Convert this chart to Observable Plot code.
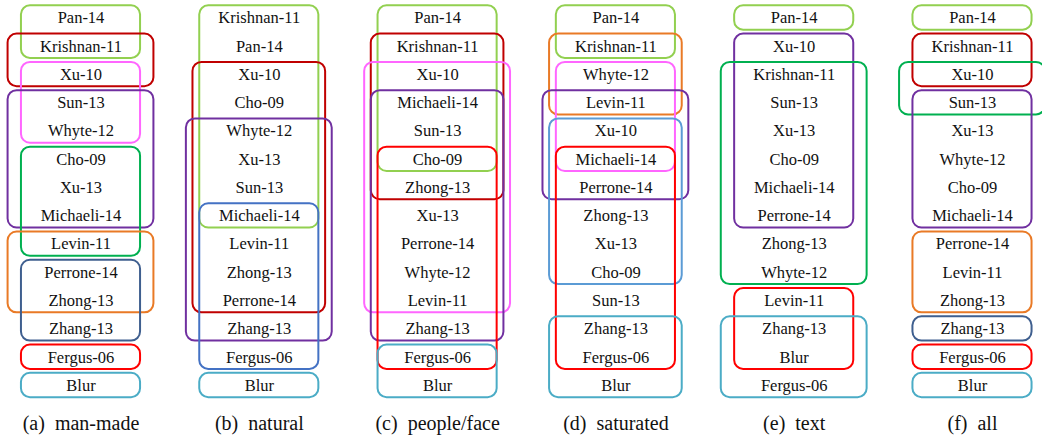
<!DOCTYPE html>
<html><head><meta charset="utf-8">
<script src="https://cdn.jsdelivr.net/npm/d3@7"></script>
<script src="https://cdn.jsdelivr.net/npm/@observablehq/plot@0.6"></script>
<style>
body{margin:0;background:#fff}
#chart svg text{font-family:"Liberation Serif","Times New Roman",Times,"DejaVu Serif",serif !important;}
</style>
</head><body><div id="chart"></div>
<script>
// Panel captions
const panels = ["(a)\u00a0\u00a0man-made", "(b)\u00a0\u00a0natural", "(c)\u00a0\u00a0people/face", "(d)\u00a0\u00a0saturated", "(e)\u00a0\u00a0text", "(f)\u00a0\u00a0all"];

// Rankings (top to bottom) per panel
const rankManMade = ["Pan-14","Krishnan-11","Xu-10","Sun-13","Whyte-12","Cho-09","Xu-13","Michaeli-14","Levin-11","Perrone-14","Zhong-13","Zhang-13","Fergus-06","Blur"];
const rankNatural = ["Krishnan-11","Pan-14","Xu-10","Cho-09","Whyte-12","Xu-13","Sun-13","Michaeli-14","Levin-11","Zhong-13","Perrone-14","Zhang-13","Fergus-06","Blur"];
const rankPeople = ["Pan-14","Krishnan-11","Xu-10","Michaeli-14","Sun-13","Cho-09","Zhong-13","Xu-13","Perrone-14","Whyte-12","Levin-11","Zhang-13","Fergus-06","Blur"];
const rankSaturated = ["Pan-14","Krishnan-11","Whyte-12","Levin-11","Xu-10","Michaeli-14","Perrone-14","Zhong-13","Xu-13","Cho-09","Sun-13","Zhang-13","Fergus-06","Blur"];
const rankText = ["Pan-14","Xu-10","Krishnan-11","Sun-13","Xu-13","Cho-09","Michaeli-14","Perrone-14","Zhong-13","Whyte-12","Levin-11","Zhang-13","Blur","Fergus-06"];
const rankAll = ["Pan-14","Krishnan-11","Xu-10","Sun-13","Xu-13","Whyte-12","Cho-09","Michaeli-14","Perrone-14","Levin-11","Zhong-13","Zhang-13","Fergus-06","Blur"];

// Groups of indistinguishable methods: [first rank, last rank, group colour key, nesting depth]
const groupsManMade = [[0,1,"lime",0],[1,2,"maroon",2],[2,4,"pink",0],[3,7,"purple",2],[5,8,"green",0],[8,10,"orange",2],[9,11,"navy",0],[12,12,"red",0],[13,13,"cyan",0]];
const groupsNatural = [[0,7,"lime",0],[2,10,"maroon",1],[4,11,"purple",2],[7,12,"blue",0],[13,13,"cyan",0]];
const groupsPeople = [[0,5,"lime",0],[1,6,"maroon",1],[2,10,"pink",2],[3,11,"purple",1],[5,12,"red",0],[12,13,"cyan",0]];
const groupsSaturated = [[0,1,"lime",0],[1,3,"orange",1],[2,5,"pink",0],[3,6,"purple",2],[4,9,"sky",1],[5,12,"red",0],[11,13,"cyan",1]];
const groupsText = [[0,0,"lime",0],[1,7,"purple",0],[2,9,"green",2],[10,12,"red",0],[11,13,"cyan",2]];
const groupsAll = [[0,0,"lime",0],[1,2,"maroon",0],[2,3,"green",2],[3,7,"purple",0],[8,10,"orange",0],[11,11,"navy",0],[12,12,"red",0],[13,13,"cyan",0]];

const colorKeys = ["lime","maroon","pink","purple","green","orange","navy","red","cyan","blue","sky"];
const colorHex = ["#92d050","#c00000","#ff66ff","#7030a0","#00b050","#e97a26","#3f5f8f","#ff0000","#4bacc6","#4472c4","#5b9bd5"];

const rankings = [rankManMade, rankNatural, rankPeople, rankSaturated, rankText, rankAll];
const groupSets = [groupsManMade, groupsNatural, groupsPeople, groupsSaturated, groupsText, groupsAll];

const halfWidth = [0.334, 0.372, 0.409]; // in column units, by nesting depth
const halfHeight = 0.43;

const labels = rankings.flatMap((r, c) => r.map((name, i) => ({col: c, rank: i, name})));
const boxes = groupSets.flatMap((g, c) => g.map(([a, b, key, d]) => ({
  x1: c - halfWidth[d], x2: c + halfWidth[d], y1: a - halfHeight, y2: b + halfHeight, key
})));
const caps = panels.map((p, c) => ({col: c, rank: 14.35, p}));

const serif = "Liberation Serif";

const chart = Plot.plot({
  width: 1042, height: 441,
  marginTop: 0, marginBottom: 0, marginLeft: 0, marginRight: 0,
  x: {type: "linear", domain: [0, 5], range: [80.5, 972], axis: null},
  y: {type: "linear", domain: [0, 13], range: [17.5, 385], axis: null},
  color: {type: "ordinal", domain: colorKeys, range: colorHex},
  style: "background:#fff;overflow:hidden",
  marks: [
    Plot.rect(boxes, {x1: "x1", x2: "x2", y1: "y1", y2: "y2", fill: "none", stroke: "key", strokeWidth: 2, rx: 9}),
    Plot.text(labels, {x: "col", y: "rank", text: "name", fontSize: 16.5, fontFamily: serif, fill: "#111"}),
    Plot.text(caps, {x: "col", y: "rank", text: "p", fontSize: 20, fontFamily: serif, fill: "#111"})
  ]
});
document.getElementById("chart").append(chart);
</script>
</body></html>
